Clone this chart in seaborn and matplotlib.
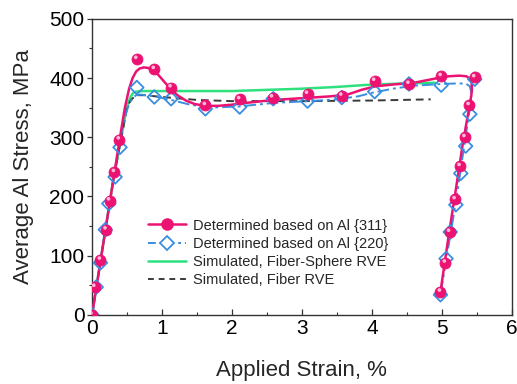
import numpy as np
import matplotlib
matplotlib.use("Agg")
import matplotlib.pyplot as plt
from matplotlib.lines import Line2D
from matplotlib.ticker import MultipleLocator
import seaborn as sns

# Measured lattice-strain derived stresses, Al {311}
strain_311 = [0.0, 0.04, 0.12, 0.20, 0.25, 0.32, 0.39, 0.64, 0.89, 1.13, 1.62, 2.11,
              2.58, 3.08, 3.57, 4.04, 4.53, 4.99, 5.47, 5.39, 5.33, 5.26, 5.19, 5.11,
              5.05, 4.98]
stress_311 = [0, 47, 93, 144, 193, 241, 296, 432, 415, 384, 354, 364,
              367, 373, 370, 395, 390, 403, 401, 354, 300, 251, 195, 140,
              88, 39]

# Measured stresses, Al {220}
strain_220 = [0.0, 0.06, 0.12, 0.19, 0.24, 0.33, 0.40, 0.64, 0.89, 1.13, 1.62, 2.11,
              2.59, 3.08, 3.57, 4.04, 4.53, 4.99, 5.47, 5.40, 5.34, 5.27, 5.20, 5.12,
              5.06, 4.98]
stress_220 = [0, 47, 88, 144, 188, 233, 283, 384, 368, 365, 348, 351,
              365, 361, 367, 377, 390, 388, 398, 339, 285, 239, 186, 140,
              95, 34]

# Smoothed trend through the {311} data
fit311_x = [0.0, 0.2, 0.4, 0.47, 0.53, 0.58, 0.63, 0.68, 0.74, 0.80, 0.87, 0.95,
            1.03, 1.12, 1.22, 1.34, 1.47, 1.62, 1.8, 2.0, 2.2, 2.6, 3.0, 3.4,
            3.65, 3.85, 4.05, 4.3, 4.6, 4.9, 5.1, 5.25, 5.35, 5.40, 5.425, 5.43,
            5.42, 5.3, 5.2, 5.1, 4.98]
fit311_y = [0, 150, 300, 350, 382, 400, 411, 416, 418, 417, 413, 405,
            394, 382, 371, 362, 356, 353, 353, 355, 358, 363, 366, 369,
            372, 380, 386, 389, 392, 399, 403, 404, 403, 399, 392, 380,
            370, 290, 212, 136, 39]

# Smoothed trend through the {220} data
fit220_x = [0.0, 0.2, 0.4, 0.47, 0.53, 0.58, 0.63, 0.7, 0.9, 1.13, 1.4, 1.7,
            2.1, 2.6, 3.1, 3.5, 3.8, 4.0, 4.3, 4.6, 5.0, 5.25, 5.35, 5.40,
            5.42, 5.415, 5.3, 5.2, 5.1, 4.98]
fit220_y = [0, 150, 295, 335, 356, 366, 371, 372, 369, 363, 355, 350,
            352, 358, 361, 364, 369, 375, 382, 387, 390, 391, 390, 386,
            376, 360, 270, 190, 120, 34]

# Finite-element predictions
sim_fs_x = [0.0, 0.3, 0.5, 0.55, 0.59, 0.63, 0.7, 1.0, 2.0, 2.5, 3.0, 3.5, 4.0,
            4.5, 4.9]
sim_fs_y = [0, 225, 352, 368, 375, 377, 378, 378, 378, 380, 382, 385, 389,
            391, 392]

sim_f_x = [0.0, 0.3, 0.5, 0.55, 0.6, 0.65, 0.75, 1.0, 1.5, 2.0, 3.0, 4.0, 4.84]
sim_f_y = [0, 225, 350, 362, 368, 371, 371, 368, 363, 361, 361, 362, 364]

labels = ["Determined based on Al {311}", "Determined based on Al {220}",
          "Simulated, Fiber-Sphere RVE", "Simulated, Fiber RVE"]

c_pink = "#EC1272"
c_blue = "#3A8EE0"
c_green = "#2FE07E"
c_black = "#3A3A3A"

sns.set_theme(style="white")
plt.rcParams["font.family"] = ["Liberation Sans", "DejaVu Sans"]

fig = plt.figure(figsize=(5.17, 3.84), dpi=100)
ax = fig.add_axes([0.178, 0.180, 0.812, 0.771])

sns.lineplot(x=sim_fs_x, y=sim_fs_y, sort=False, estimator=None, ax=ax,
             color=c_green, lw=1.8, zorder=2)
sns.lineplot(x=sim_f_x, y=sim_f_y, sort=False, estimator=None, ax=ax,
             color=c_black, lw=1.4, ls=(0, (4, 2.5)), zorder=2)
sns.lineplot(x=fit220_x, y=fit220_y, sort=False, estimator=None, ax=ax,
             color=c_blue, lw=1.4, ls=(0, (6, 2, 1.5, 2)), zorder=3)
sns.lineplot(x=fit311_x, y=fit311_y, sort=False, estimator=None, ax=ax,
             color=c_pink, lw=1.8, zorder=3)

sns.scatterplot(x=strain_220, y=stress_220, ax=ax, marker="D", s=48,
                facecolor="white", edgecolor=c_blue, linewidth=1.3, zorder=4)
ax.collections[-1].set_facecolor("none")
sns.scatterplot(x=strain_311, y=stress_311, ax=ax, marker="o", s=62,
                color=c_pink, edgecolor=c_pink, linewidth=0.6, zorder=5)
# small highlight giving the spheres a glossy look
sns.scatterplot(x=np.array(strain_311) - 0.015, y=np.array(stress_311) + 3, ax=ax,
                marker="o", s=7, color="#FFB8D6", edgecolor="none", zorder=6)

ax.set_xlim(0, 6)
ax.set_ylim(0, 500)
ax.xaxis.set_major_locator(MultipleLocator(1))
ax.xaxis.set_minor_locator(MultipleLocator(0.5))
ax.yaxis.set_major_locator(MultipleLocator(100))
ax.yaxis.set_minor_locator(MultipleLocator(50))
ax.tick_params(axis="x", which="both", direction="in", bottom=True, top=False,
               labelsize=15, pad=3, colors="#333333", labelcolor="black")
ax.tick_params(axis="x", which="major", length=4, width=0.9)
ax.tick_params(axis="x", which="minor", length=2.5, width=0.8)
ax.tick_params(axis="y", which="both", direction="out", left=True, right=False,
               labelsize=15, pad=2, colors="#333333", labelcolor="black")
ax.tick_params(axis="y", which="major", length=3.5, width=0.9)
ax.tick_params(axis="y", which="minor", length=2, width=0.8)
for sp in ax.spines.values():
    sp.set_color("#333333")
    sp.set_linewidth(1.0)

ax.set_xlabel("Applied Strain, %", fontsize=16, labelpad=16)
ax.set_ylabel("Average Al Stress, MPa", fontsize=16, labelpad=11)

handles = [
    Line2D([], [], color=c_pink, lw=1.8, marker="o", markersize=8,
           markerfacecolor=c_pink, markeredgecolor=c_pink),
    Line2D([], [], color=c_blue, lw=1.4, ls=(0, (4, 2, 1.5, 2)), marker="D",
           markersize=7, markerfacecolor="white", markeredgecolor=c_blue,
           markeredgewidth=1.3),
    Line2D([], [], color=c_green, lw=1.8),
    Line2D([], [], color=c_black, lw=1.4, ls=(0, (3, 2.5))),
]
ax.legend(handles, labels, loc="lower left", bbox_to_anchor=(0.12, 0.075),
          frameon=False, fontsize=10.5, handlelength=2.6, handletextpad=0.5,
          labelspacing=0.28, borderaxespad=0)

fig.savefig("out.png", dpi=100)
